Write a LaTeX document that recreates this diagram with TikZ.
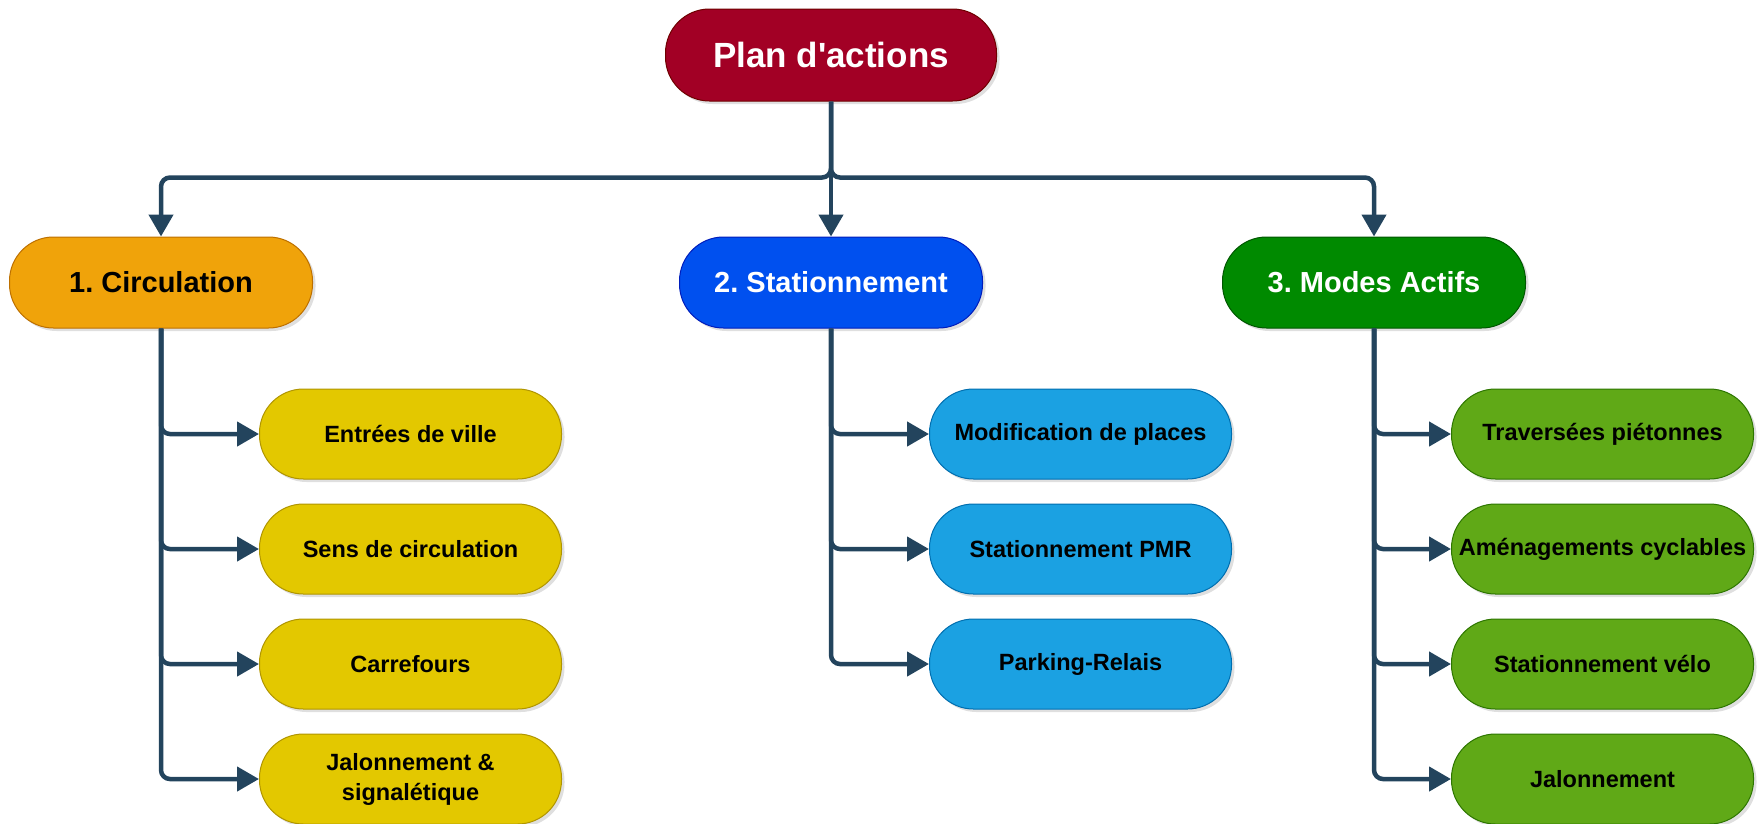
\documentclass[tikz,border=0pt]{standalone}
\usepackage{fontspec}
\setmainfont{Liberation Sans}
\usetikzlibrary{positioning,arrows.meta,shadows}

\definecolor{planfill}{HTML}{A20025}
\definecolor{planline}{HTML}{6F0000}
\definecolor{circfill}{HTML}{F0A30A}
\definecolor{circline}{HTML}{BD7000}
\definecolor{statfill}{HTML}{0050EF}
\definecolor{statline}{HTML}{001DBC}
\definecolor{modefill}{HTML}{008A00}
\definecolor{modeline}{HTML}{005700}
\definecolor{yelfill}{HTML}{E3C800}
\definecolor{yelline}{HTML}{B09500}
\definecolor{skyfill}{HTML}{1BA1E2}
\definecolor{skyline}{HTML}{006EAF}
\definecolor{limefill}{HTML}{60A917}
\definecolor{limeline}{HTML}{2D7600}
\definecolor{linkcol}{HTML}{23445D}

\begin{document}
\frenchspacing
\begin{tikzpicture}[x=1pt,y=1pt,node distance=24pt,
    box/.style = {draw, line width=1pt, rounded corners=44pt, align=center, inner sep=0pt,
        drop shadow={shadow xshift=3pt, shadow yshift=-3pt, opacity=0.25}},
    main/.style = {box, minimum width=331pt, minimum height=92pt, font=\bfseries\fontsize{35}{42}\selectfont},
    cat/.style = {box, minimum width=303pt, minimum height=91pt, font=\bfseries\fontsize{29}{35}\selectfont},
    sub/.style = {box, minimum width=302pt, minimum height=90pt, font=\bfseries\fontsize{23.5}{30}\selectfont},
    link/.style = {draw=linkcol, line width=4.5pt, rounded corners=9pt, -{Triangle[length=22pt,width=24pt]}}]
    \useasboundingbox (0,0) rectangle (1763,-823);

    \node[main, fill=planfill, draw=planline, text=white] (plan) at (831,-55) {Plan d\textquotesingle actions};
    \node[cat, fill=statfill, draw=statline, text=white] (stat) [below=135pt of plan] {2. Stationnement};
    \node[cat, fill=circfill, draw=circline] (circ) [left=366pt of stat] {1. Circulation};
    \node[cat, fill=modefill, draw=modeline, text=white] (mode) [right=239pt of stat] {3. Modes Actifs};

    % 1. Circulation
    \node[sub, fill=yelfill, draw=yelline] (c1) [below right=60pt and 98pt of circ.south] {Entrées de ville};
    \node[sub, fill=yelfill, draw=yelline] (c2) [below=of c1] {Sens de circulation};
    \node[sub, fill=yelfill, draw=yelline] (c3) [below=of c2] {Carrefours};
    \node[sub, fill=yelfill, draw=yelline] (c4) [below=of c3] {Jalonnement \&\\signalétique};

    % 2. Stationnement
    \node[sub, fill=skyfill, draw=skyline] (s1) [below right=60pt and 98pt of stat.south] {Modification de places};
    \node[sub, fill=skyfill, draw=skyline] (s2) [below=of s1] {Stationnement PMR};
    \node[sub, fill=skyfill, draw=skyline] (s3) [below=of s2] {Parking-Relais};

    % 3. Modes Actifs
    \node[sub, fill=limefill, draw=limeline] (m1) [below right=60pt and 77pt of mode.south] {Traversées piétonnes};
    \node[sub, fill=limefill, draw=limeline] (m2) [below=of m1] {Aménagements cyclables};
    \node[sub, fill=limefill, draw=limeline] (m3) [below=of m2] {Stationnement vélo};
    \node[sub, fill=limefill, draw=limeline] (m4) [below=of m3] {Jalonnement};

    \coordinate (bus) at ([yshift=-76pt]plan.south);
    \draw[link] (plan.south) -- (bus) -| (circ.north);
    \draw[link] (plan.south) -- (bus) -| (mode.north);
    \draw[link] (plan) -- (stat);

    \foreach \k in {c1,c2,c3,c4} \draw[link] (circ.south) |- (\k.west);
    \foreach \k in {s1,s2,s3} \draw[link] (stat.south) |- (\k.west);
    \foreach \k in {m1,m2,m3,m4} \draw[link] (mode.south) |- (\k.west);
\end{tikzpicture}
\end{document}
